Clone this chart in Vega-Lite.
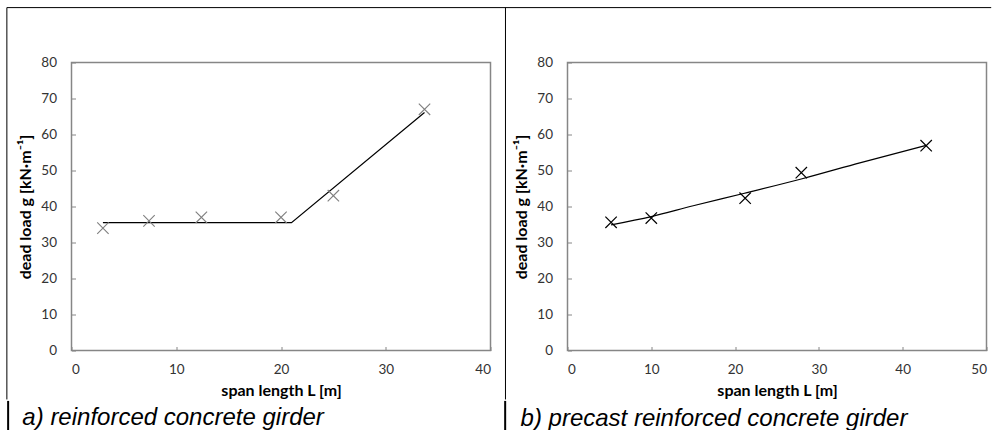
{
  "$schema": "https://vega.github.io/schema/vega-lite/v6.json",
  "padding": {"left": 5.5, "top": 5.5, "right": 0, "bottom": 0},
  "background": "white",
  "spacing": -4,
  "config": {
    "view": {"stroke": "#868686", "strokeWidth": 1.5},
    "axis": {
      "domain": false,
      "grid": false,
      "ticks": true,
      "tickColor": "#868686",
      "tickSize": -4,
      "labelFont": "Lato",
      "labelFontSize": 13.5,
      "labelColor": "#333333",
      "labelOverlap": false,
      "titleFont": "Lato",
      "titleFontSize": 16,
      "titleFontWeight": "bold",
      "titleColor": "#000000"
    },
    "axisX": {"labelPadding": 16, "titlePadding": 6},
    "axisY": {"labelPadding": 19, "titlePadding": 7}
  },
  "datasets": {
    "one": [{}],
    "pts1": [
      {"L": 3.0, "g": 34.0},
      {"L": 7.4, "g": 36.0},
      {"L": 12.4, "g": 37.0},
      {"L": 20.0, "g": 37.0},
      {"L": 25.0, "g": 43.0},
      {"L": 33.7, "g": 67.0}
    ],
    "fit1": [
      {"L": 3.0, "g": 35.5},
      {"L": 21.0, "g": 35.5},
      {"L": 33.7, "g": 66.1}
    ],
    "pts2": [
      {"L": 5.2, "g": 35.6},
      {"L": 10.0, "g": 36.8},
      {"L": 21.2, "g": 42.3},
      {"L": 27.9, "g": 49.4},
      {"L": 42.8, "g": 56.9}
    ],
    "fit2": [
      {"L": 5.2, "g": 34.9},
      {"L": 10.0, "g": 37.2},
      {"L": 15.0, "g": 40.2},
      {"L": 21.0, "g": 43.6},
      {"L": 28.0, "g": 47.7},
      {"L": 35.0, "g": 52.2},
      {"L": 42.8, "g": 57.0}
    ]
  },
  "hconcat": [
    {
      "width": 419,
      "height": 288,
      "title": {
        "text": "a) reinforced concrete girder",
        "orient": "bottom",
        "anchor": "start",
        "frame": "bounds",
        "baseline": "alphabetic",
        "offset": -7,
        "dx": 16,
        "font": "Liberation Sans",
        "fontSize": 24,
        "fontStyle": "italic",
        "fontWeight": "normal",
        "color": "#000000"
      },
      "encoding": {
        "x": {"type": "quantitative", "scale": {"domain": [0, 40], "nice": false, "zero": false},
              "axis": {"values": [0, 10, 20, 30, 40], "title": "span length L [m]"}},
        "y": {"type": "quantitative", "scale": {"domain": [0, 80], "nice": false, "zero": false},
              "axis": {"values": [0, 10, 20, 30, 40, 50, 60, 70, 80], "title": "dead load g [kN·m⁻¹]"}}
      },
      "layer": [
        {
          "data": {"name": "fit1"},
          "mark": {"type": "line", "color": "#000000", "strokeWidth": 1.2},
          "encoding": {
            "x": {"field": "L", "type": "quantitative"},
            "y": {"field": "g", "type": "quantitative"}
          }
        },
        {
          "data": {"name": "pts1"},
          "mark": {"type": "point", "shape": "M-1,-1L1,1M-1,1L1,-1", "filled": false, "stroke": "#7f7f7f", "strokeWidth": 1.1, "size": 130, "opacity": 1},
          "encoding": {
            "x": {"field": "L", "type": "quantitative"},
            "y": {"field": "g", "type": "quantitative"}
          }
        },
        {
          "data": {"name": "one"},
          "mark": {"type": "rule", "color": "#000000", "strokeWidth": 1},
          "encoding": {
            "x": {"datum": -6.17, "type": "quantitative"},
            "x2": {"datum": 41.43},
            "y": {"datum": 95.25, "type": "quantitative"}
          }
        },
        {
          "data": {"name": "one"},
          "mark": {"type": "rule", "color": "#000000", "strokeWidth": 1},
          "encoding": {
            "x": {"datum": -6.17, "type": "quantitative"},
            "y": {"datum": 95.25, "type": "quantitative"},
            "y2": {"datum": -13.6}
          }
        },
        {
          "data": {"name": "one"},
          "mark": {"type": "rule", "color": "#000000", "strokeWidth": 1},
          "encoding": {
            "x": {"datum": 41.43, "type": "quantitative"},
            "y": {"datum": 95.25, "type": "quantitative"},
            "y2": {"datum": -13.6}
          }
        },
        {
          "data": {"name": "one"},
          "mark": {"type": "rule", "color": "#000000", "strokeWidth": 2},
          "encoding": {
            "x": {"datum": -6.05, "type": "quantitative"},
            "y": {"datum": -14.0, "type": "quantitative"},
            "y2": {"datum": -22.4}
          }
        },
        {
          "data": {"name": "one"},
          "mark": {"type": "rule", "color": "#000000", "strokeWidth": 2},
          "encoding": {
            "x": {"datum": 41.4, "type": "quantitative"},
            "y": {"datum": -14.0, "type": "quantitative"},
            "y2": {"datum": -22.4}
          }
        }
      ]
    },
    {
      "width": 419,
      "height": 288,
      "title": {
        "text": "b) precast reinforced concrete girder",
        "orient": "bottom",
        "anchor": "start",
        "frame": "bounds",
        "baseline": "alphabetic",
        "offset": 28,
        "dx": 16,
        "font": "Liberation Sans",
        "fontSize": 24,
        "fontStyle": "italic",
        "fontWeight": "normal",
        "color": "#000000"
      },
      "encoding": {
        "x": {"type": "quantitative", "scale": {"domain": [0, 50], "nice": false, "zero": false},
              "axis": {"values": [0, 10, 20, 30, 40, 50], "title": "span length L [m]"}},
        "y": {"type": "quantitative", "scale": {"domain": [0, 80], "nice": false, "zero": false},
              "axis": {"values": [0, 10, 20, 30, 40, 50, 60, 70, 80], "title": "dead load g [kN·m⁻¹]"}}
      },
      "layer": [
        {
          "data": {"name": "fit2"},
          "mark": {"type": "line", "color": "#000000", "strokeWidth": 1.2, "interpolate": "monotone"},
          "encoding": {
            "x": {"field": "L", "type": "quantitative"},
            "y": {"field": "g", "type": "quantitative"}
          }
        },
        {
          "data": {"name": "pts2"},
          "mark": {"type": "point", "shape": "M-1,-1L1,1M-1,1L1,-1", "filled": false, "stroke": "#000000", "strokeWidth": 1.2, "size": 130, "opacity": 1},
          "encoding": {
            "x": {"field": "L", "type": "quantitative"},
            "y": {"field": "g", "type": "quantitative"}
          }
        },
        {
          "data": {"name": "one"},
          "mark": {"type": "rule", "color": "#000000", "strokeWidth": 1},
          "encoding": {
            "x": {"datum": -7.45, "type": "quantitative"},
            "x2": {"datum": 50.56},
            "y": {"datum": 95.25, "type": "quantitative"}
          }
        }
      ]
    }
  ]
}
